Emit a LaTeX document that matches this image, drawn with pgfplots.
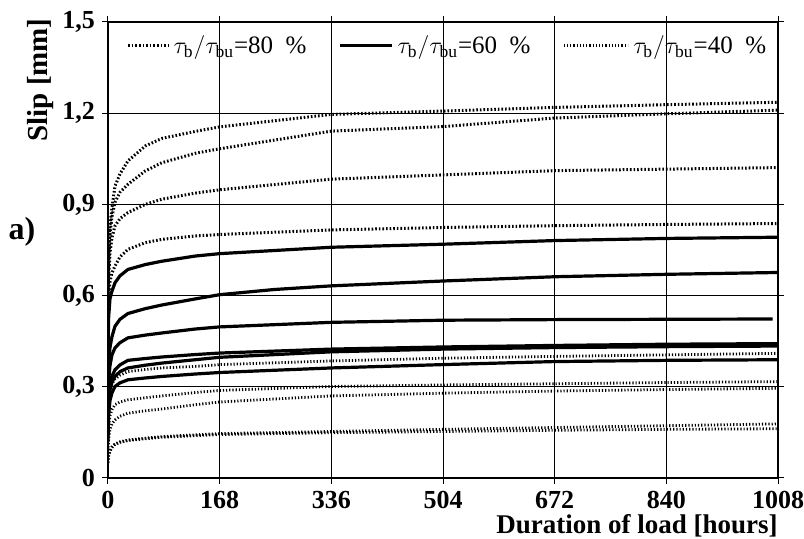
\documentclass[border=0pt]{standalone}
\usepackage{fontspec}
\setmainfont{Liberation Serif}
\usepackage{pgfplots}
\pgfplotsset{compat=1.18}

\tikzset{
  p80/.style={black, line width=1.5pt, dash pattern=on 0.8pt off 1.0pt},
  p60/.style={black, line width=1.6pt},
  p40/.style={black, line width=1.4pt, dash pattern=on 0.6pt off 1.0pt},
}

\begin{document}
\begin{tikzpicture}
\begin{axis}[
  at={(0,0)}, anchor=south west,
  scale only axis, width=335pt, height=228pt,
  xmin=0, xmax=1008, ymin=0, ymax=1.5,
  xtick={0,168,336,504,672,840,1008},
  ytick={0,0.3,0.6,0.9,1.2,1.5},
  grid=major, major grid style={black, line width=0.5pt},
  axis line style={line width=0.6pt},
  tick align=outside, major tick length=3pt, tick style={black, line width=0.5pt},
  /pgf/number format/assume math mode=true,
  /pgf/number format/use comma,
  /pgf/number format/1000 sep={},
  /pgf/number format/fixed,
  /pgf/number format/precision=1,
  ticklabel style={font=\fontsize{13}{15}\selectfont\bfseries},
  xlabel={Duration of load [hours]},
  xlabel style={at={(axis description cs:1,0)}, anchor=east, yshift=-24pt,
    inner sep=0pt, font=\fontsize{13.5}{15}\selectfont\bfseries},
  legend style={draw=none, fill=none, at={(axis description cs:0.508,0.948)},
    anchor=center, legend columns=3, font=\fontsize{12.5}{14}\selectfont,
    /tikz/every even column/.append style={column sep=14pt}},
]
\addlegendimage{legend image code/.code={\draw[p80] (0pt,0pt) -- (20pt,0pt);}}
\addlegendentry{$\tau_{\mathrm{b}}/\tau_{\mathrm{bu}}$=80\ \ \%}
\addlegendimage{legend image code/.code={\draw[p60] (0pt,0pt) -- (26pt,0pt);}}
\addlegendentry{$\tau_{\mathrm{b}}/\tau_{\mathrm{bu}}$=60\ \ \%}
\addlegendimage{legend image code/.code={\draw[p40] (0pt,0pt) -- (32pt,0pt);}}
\addlegendentry{$\tau_{\mathrm{b}}/\tau_{\mathrm{bu}}$=40\ \ \%}

% 80 %
\addplot[p80, forget plot] coordinates {(0,0.62)(1,0.74)(3,0.83)(6,0.89)(10.5,0.96)(18,1.00)(30,1.043)(56,1.092)(81,1.117)(131,1.14)(168,1.155)(336,1.196)(504,1.207)(672,1.219)(840,1.228)(1008,1.236)};
\addplot[p80, forget plot] coordinates {(0,0.60)(1,0.70)(3,0.80)(6,0.86)(10.5,0.907)(18,0.94)(30,0.966)(56,1.01)(81,1.037)(131,1.068)(168,1.083)(336,1.141)(504,1.156)(672,1.184)(840,1.198)(1008,1.21)};
\addplot[p80, forget plot] coordinates {(0,0.58)(1,0.66)(3,0.74)(6,0.79)(10.5,0.829)(18,0.853)(30,0.873)(56,0.90)(81,0.917)(131,0.937)(168,0.948)(336,0.983)(504,0.997)(672,1.011)(840,1.016)(1008,1.021)};
\addplot[p80, forget plot] coordinates {(0,0.56)(1,0.60)(3,0.645)(6,0.675)(10.5,0.697)(18,0.727)(30,0.752)(56,0.774)(81,0.785)(131,0.796)(168,0.801)(336,0.816)(504,0.824)(672,0.830)(840,0.834)(1008,0.837)};

% 60 %
\addplot[p60, forget plot] coordinates {(0,0.42)(1,0.53)(3,0.59)(6,0.615)(10.5,0.642)(18,0.665)(30,0.686)(56,0.702)(81,0.713)(131,0.73)(168,0.738)(336,0.759)(504,0.769)(672,0.781)(840,0.788)(1008,0.792)};
\addplot[p60, forget plot] coordinates {(0,0.28)(1,0.38)(3,0.43)(6,0.465)(10.5,0.499)(18,0.522)(30,0.541)(56,0.557)(81,0.569)(131,0.589)(168,0.603)(250,0.62)(336,0.632)(504,0.648)(672,0.662)(840,0.670)(1008,0.676)};
\addplot[p60, forget plot] coordinates {(0,0.22)(1,0.32)(3,0.37)(6,0.405)(10.5,0.428)(18,0.445)(30,0.461)(56,0.47)(81,0.477)(131,0.49)(168,0.497)(336,0.512)(504,0.519)(672,0.521)(840,0.522)(1000,0.523)};
\addplot[p60, forget plot] coordinates {(0,0.17)(1,0.27)(3,0.31)(6,0.335)(10.5,0.356)(18,0.372)(30,0.387)(56,0.393)(81,0.398)(131,0.406)(168,0.411)(336,0.424)(504,0.431)(672,0.436)(840,0.44)(1008,0.442)};
\addplot[p60, forget plot] coordinates {(0,0.15)(1,0.24)(3,0.29)(6,0.315)(10.5,0.334)(18,0.35)(30,0.362)(56,0.371)(81,0.378)(131,0.389)(168,0.397)(336,0.415)(504,0.424)(672,0.429)(840,0.432)(1008,0.434)};
\addplot[p60, forget plot] coordinates {(0,0.12)(1,0.21)(3,0.255)(6,0.28)(10.5,0.301)(18,0.313)(30,0.323)(56,0.329)(81,0.334)(131,0.342)(168,0.347)(336,0.362)(504,0.373)(672,0.383)(840,0.387)(1008,0.389)};

% 40 %
\addplot[p40, forget plot] coordinates {(0,0.18)(1,0.25)(3,0.29)(6,0.31)(10.5,0.325)(18,0.338)(30,0.35)(56,0.357)(81,0.362)(131,0.367)(168,0.373)(336,0.385)(504,0.394)(672,0.40)(840,0.405)(1008,0.41)};
\addplot[p40, forget plot] coordinates {(0,0.11)(1,0.17)(3,0.205)(6,0.225)(10.5,0.241)(18,0.25)(30,0.257)(56,0.264)(81,0.27)(131,0.281)(168,0.288)(336,0.301)(504,0.306)(672,0.31)(840,0.314)(1008,0.317)};
\addplot[p40, forget plot] coordinates {(0,0.08)(1,0.13)(3,0.16)(6,0.178)(10.5,0.191)(18,0.203)(30,0.213)(56,0.221)(81,0.227)(131,0.241)(168,0.25)(336,0.27)(504,0.279)(672,0.286)(840,0.291)(1008,0.295)};
\addplot[p40, forget plot] coordinates {(0,0.05)(1,0.075)(3,0.09)(6,0.103)(10.5,0.112)(18,0.119)(30,0.125)(56,0.131)(81,0.136)(131,0.142)(168,0.146)(336,0.153)(504,0.16)(672,0.166)(840,0.172)(1008,0.178)};
\addplot[p40, forget plot] coordinates {(0,0.05)(1,0.072)(3,0.087)(6,0.1)(10.5,0.11)(18,0.117)(30,0.123)(56,0.129)(81,0.134)(131,0.139)(168,0.143)(336,0.149)(504,0.153)(672,0.157)(840,0.16)(1008,0.162)};
\end{axis}
\node[rotate=90, font=\fontsize{14.5}{16}\selectfont\bfseries] at (-33.5pt,199pt) {Slip [mm]};
\node[font=\fontsize{16}{18}\selectfont\bfseries] at (-43pt,123pt) {a)};
\pgfresetboundingbox
\path[use as bounding box] (-54pt,-30.5pt) rectangle (348pt,239pt);
\end{tikzpicture}
\end{document}
